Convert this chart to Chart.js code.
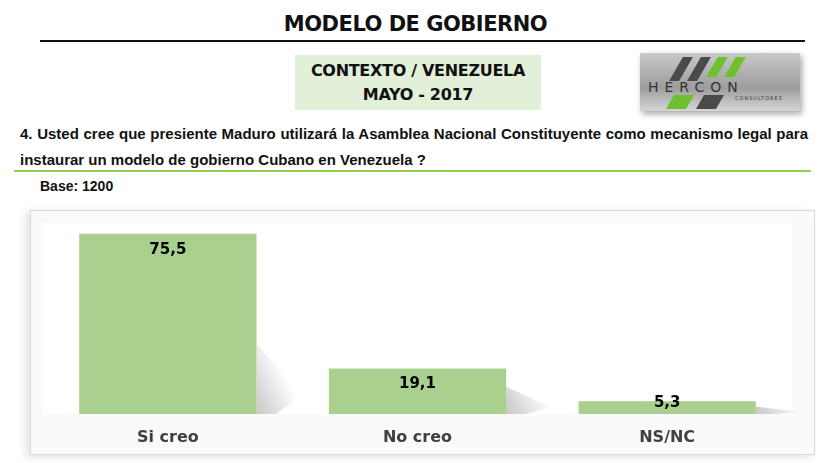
<!DOCTYPE html>
<html>
<head>
<meta charset="utf-8">
<script src="https://cdn.jsdelivr.net/npm/chart.js@4/dist/chart.umd.min.js"></script>
<style>
  body { margin: 0; background: #fff; width: 831px; height: 463px; position: relative; overflow: hidden; font-family: "DejaVu Sans", sans-serif; }
  .title { position: absolute; left: 0; width: 831px; top: 12px; text-align: center; font-weight: bold; font-size: 21px; color: #111; letter-spacing: -0.5px; }
  .rule { position: absolute; left: 40px; width: 765px; top: 40px; height: 2px; background: #111; }
  .ctx { position: absolute; left: 295px; top: 55px; width: 246px; height: 55px; background: #e2efd9; text-align: center; font-weight: bold; font-size: 16px; line-height: 24px; color: #111; padding-top: 4px; box-sizing: border-box; letter-spacing: -0.3px; }
  .logo { position: absolute; left: 640px; top: 53px; width: 160px; height: 58px; background: linear-gradient(180deg, #c9c9c9, #9d9d9d 60%, #d6d6d6); box-shadow: 2px 3px 6px rgba(0,0,0,0.35); overflow: hidden; }
  .logo .s { position: absolute; width: 10px; transform: skewX(-30deg); }
  .logo .t { position: absolute; left: 8px; top: 26px; font-family: "DejaVu Sans", sans-serif; font-size: 14px; letter-spacing: 6px; color: #333; }
  .logo .u { position: absolute; left: 95px; top: 42px; font-size: 5px; color: #333; letter-spacing: 1px; }
  .q { position: absolute; left: 20px; top: 121px; width: 788px; font-family: "Liberation Sans Narrow", "Liberation Sans", sans-serif; font-weight: bold; font-size: 15px; line-height: 26px; text-align: justify; color: #111; }
  .gline { position: absolute; left: 14px; width: 797px; top: 170px; height: 2px; background: #92d050; }
  .base { position: absolute; left: 40px; top: 178px; font-family: "Liberation Sans Narrow", "Liberation Sans", sans-serif; font-weight: bold; font-size: 14px; color: #111; }
  .box { position: absolute; left: 30px; top: 210px; width: 785px; height: 245px; border: 1px solid #d9d9d9; box-sizing: border-box; background: #fafafa; box-shadow: -4px 2px 8px rgba(0,0,0,0.12); }
</style>
</head>
<body>
<div class="title">MODELO DE GOBIERNO</div>
<div class="rule"></div>
<div class="ctx">CONTEXTO / VENEZUELA<br>MAYO - 2017</div>
<div class="logo">
  <div class="s" style="left:36px;top:4px;height:24px;background:#4a4a4a"></div>
  <div class="s" style="left:54px;top:4px;height:24px;background:#4a4a4a"></div>
  <div class="s" style="left:72px;top:4px;height:20px;background:#6fbf2e"></div>
  <div class="s" style="left:90px;top:4px;height:20px;background:#6fbf2e"></div>
  <div class="s" style="left:30px;top:42px;height:14px;background:#6fbf2e;width:20px"></div>
  <div class="s" style="left:60px;top:42px;height:14px;background:#4a4a4a;width:20px"></div>
  <div class="t">HERCON</div>
  <div class="u">CONSULTORES</div>
</div>
<div class="q">4. Usted cree que presiente Maduro utilizará la Asamblea Nacional Constituyente como mecanismo legal para instaurar un modelo de gobierno Cubano en Venezuela ?</div>
<div class="gline"></div>
<div class="base">Base: 1200</div>
<div class="box"><canvas id="chart"></canvas></div>

<script>
"use strict";

const categories = ['Si creo', 'No creo', 'NS/NC'];
const values = [75.5, 19.1, 5.3];

const plotBackground = {
  id: 'plotBackground',
  beforeDraw(chart) {
    const { ctx, chartArea: a } = chart;
    ctx.save();
    ctx.fillStyle = '#ffffff';
    ctx.fillRect(a.left, a.top, a.right - a.left, a.bottom - a.top);
    ctx.restore();
  }
};

const barShadow = {
  id: 'barShadow',
  beforeDatasetsDraw(chart) {
    const { ctx } = chart;
    const meta = chart.getDatasetMeta(0);
    ctx.save();
    meta.data.forEach(bar => {
      const right = bar.x + bar.width / 2;
      const h = bar.base - bar.y;
      const grad = ctx.createLinearGradient(right, bar.base, right + 40, bar.base - 20);
      grad.addColorStop(0, 'rgba(0,0,0,0.22)');
      grad.addColorStop(1, 'rgba(0,0,0,0)');
      ctx.fillStyle = grad;
      ctx.beginPath();
      ctx.moveTo(right, bar.base);
      ctx.lineTo(right, bar.base - Math.min(h * 0.6, 70));
      ctx.lineTo(right + 45, bar.base - Math.min(h * 0.15, 20));
      ctx.lineTo(right + 20, bar.base);
      ctx.closePath();
      ctx.fill();
    });
    ctx.restore();
  }
};

const valueLabels = {
  id: 'valueLabels',
  afterDatasetsDraw(chart) {
    const { ctx } = chart;
    const meta = chart.getDatasetMeta(0);
    ctx.save();
    ctx.font = 'bold 15px "DejaVu Sans", sans-serif';
    ctx.fillStyle = '#000';
    ctx.textAlign = 'center';
    ctx.textBaseline = 'middle';
    meta.data.forEach((bar, i) => {
      const y = Math.min(bar.y + 16, bar.base - 11);
      ctx.fillText(values[i].toFixed(1).replace('.', ','), bar.x, y);
    });
    ctx.restore();
  }
};

new Chart(document.getElementById('chart'), {
  type: 'bar',
  data: {
    labels: categories,
    datasets: [{
      data: values,
      backgroundColor: '#a9d08e',
      borderWidth: 0,
      categoryPercentage: 0.71,
      barPercentage: 1
    }]
  },
  options: {
    responsive: true,
    maintainAspectRatio: false,
    animation: false,
    layout: { padding: { left: 12, right: 22, top: 12, bottom: 0 } },
    plugins: { legend: { display: false }, tooltip: { enabled: false } },
    scales: {
      x: {
        grid: { display: false },
        border: { display: false },
        ticks: { color: '#404040', font: { family: '"DejaVu Sans", sans-serif', size: 16, weight: 'bold', lineHeight: 1 }, padding: 8 }
      },
      y: {
        display: false,
        min: 0,
        max: 80
      }
    }
  },
  plugins: [plotBackground, barShadow, valueLabels]
});
</script>
</body>
</html>
